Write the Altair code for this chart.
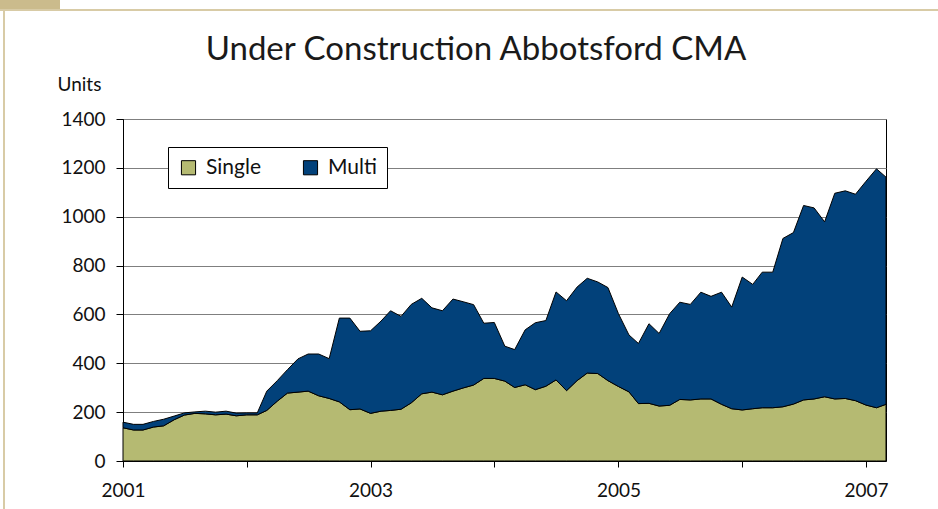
import altair as alt
import pandas as pd

# ---- data ----
months = pd.date_range("2001-01-01", periods=75, freq="MS").strftime("%Y-%m-%d").tolist()

single = [136, 127, 127, 139, 144, 169, 188, 195, 193, 189, 192, 185,
          189, 189, 207, 245, 278, 282, 286, 267, 256, 242, 210, 213,
          195, 204, 207, 212, 238, 275, 282, 271, 286, 299, 311, 338,
          338, 327, 301, 312, 292, 306, 332, 288, 329, 360, 358, 329,
          305, 283, 235, 236, 225, 228, 252, 250, 254, 254, 232, 214,
          209, 214, 218, 218, 222, 233, 250, 254, 263, 254, 256, 247,
          229, 218, 232]

multi = [23, 23, 23, 23, 27, 15, 9, 6, 11, 11, 12, 11,
         8, 8, 79, 84, 96, 136, 152, 171, 163, 343, 375, 318,
         338, 369, 408, 380, 403, 391, 345, 344, 377, 353, 329, 226,
         229, 143, 155, 225, 274, 269, 360, 368, 383, 388, 375, 381,
         298, 233, 246, 326, 297, 375, 398, 391, 437, 420, 459, 416,
         544, 509, 555, 555, 689, 702, 796, 782, 716, 842, 850, 845,
         916, 978, 930]

series_names = ["Single", "Multi"]
series_colors = ["#b5ba72", "#02417a"]
y_ticks = [0, 200, 400, 600, 800, 1000, 1200, 1400]
tick_years = [2001, 2002, 2003, 2004, 2005, 2006, 2007]
title_text = "Under Construction Abbotsford CMA"

rows = []
for d, s, m in zip(months, single, multi):
    rows.append({"date": d, "series": "Single", "ord": 0, "units": s})
    rows.append({"date": d, "series": "Multi", "ord": 1, "units": m})
df = pd.DataFrame(rows)

FONT = "Lato"
TXT = "#111111"

x_enc = alt.X(
    "date:T",
    scale=alt.Scale(
        type="utc",
        domain=[alt.DateTime(year=2001, month=1, date=1, utc=True),
                alt.DateTime(year=2007, month=3, date=1, utc=True)],
        nice=False,
    ),
    axis=alt.Axis(
        values=[alt.DateTime(year=y, month=1, date=1, utc=True) for y in tick_years],
        labelExpr="utcyear(datum.value) % 2 == 1 ? '' + utcyear(datum.value) : ''",
        title=None,
        grid=False,
        domainColor="black",
        tickColor="black",
        tickSize=6,
        labelFont=FONT,
        labelFontSize=19,
        labelColor=TXT,
        labelPadding=14,
        labelFlush=False,
    ),
)

y_enc = alt.Y(
    "units:Q",
    stack="zero",
    scale=alt.Scale(domain=[0, 1400], nice=False),
    axis=alt.Axis(
        values=y_ticks,
        format="d",
        title="Units",
        titleAngle=0,
        titleAlign="left",
        titleBaseline="alphabetic",
        titleX=-66,
        titleY=-29,
        titleFont=FONT,
        titleFontSize=19,
        titleFontWeight="normal",
        titleColor=TXT,
        grid=True,
        gridColor="#7f7f7f",
        gridWidth=1,
        domainColor="black",
        tickColor="black",
        tickSize=7,
        labelFont=FONT,
        labelFontSize=19,
        labelColor=TXT,
        labelPadding=11,
    ),
)

area = alt.Chart(df).mark_area(stroke="black", strokeWidth=1, opacity=1, interpolate="linear").encode(
    x=x_enc,
    y=y_enc,
    color=alt.Color(
        "series:N",
        scale=alt.Scale(domain=series_names, range=series_colors),
        legend=alt.Legend(
            title=None,
            orient="none",
            legendX=45,
            legendY=28,
            direction="horizontal",
            symbolType="square",
            symbolSize=200,
            symbolStrokeColor="black",
            symbolStrokeWidth=1,
            symbolOpacity=1,
            labelFont=FONT,
            labelFontSize=21,
            labelColor=TXT,
            labelOffset=7,
            columnPadding=38,
            strokeColor="black",
            fillColor="white",
            padding=10,
        ),
    ),
    order=alt.Order("ord:Q", sort="ascending"),
)

frame = alt.Data(values=[{"k": 1}])
top_line = alt.Chart(frame).mark_rect(color="#d8cba6").encode(
    x=alt.value(-123), x2=alt.value(815), y=alt.value(-110), y2=alt.value(-108)
)
top_block = alt.Chart(frame).mark_rect(color="#cbbb8c").encode(
    x=alt.value(-123), x2=alt.value(-63), y=alt.value(-119), y2=alt.value(-110)
)
left_line = alt.Chart(frame).mark_rect(color="#d8cba6").encode(
    x=alt.value(-120), x2=alt.value(-118), y=alt.value(-110), y2=alt.value(390)
)
title = alt.Chart(frame).mark_text(
    font=FONT, fontSize=33, color="#1a1a1a", align="center", baseline="alphabetic"
).encode(x=alt.value(353), y=alt.value(-59), text=alt.value(title_text))

chart = alt.layer(area, top_line, top_block, left_line, title).properties(
    width=763,
    height=342,
    padding={"left": 123, "top": 119, "right": 52, "bottom": 48},
    autosize=alt.AutoSizeParams(type="none"),
    background="white",
).configure_view(stroke="black", strokeWidth=1)

chart.save("out.html", embed_options={"renderer": "svg", "actions": False})
